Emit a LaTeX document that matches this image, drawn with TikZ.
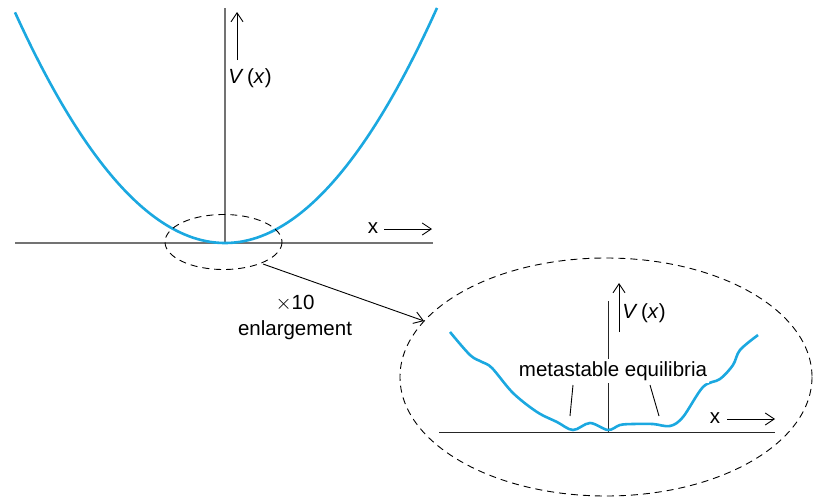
\documentclass[tikz,border=0pt]{standalone}
\usepackage{fontspec}
\setmainfont{Liberation Sans}
\usetikzlibrary{arrows.meta}
\definecolor{curveblue}{RGB}{27,168,224}
\tikzset{
  axisgray/.style={line width=1.4pt, draw=black!55},
  axisdark/.style={line width=1pt, draw=black!85},
  potential/.style={line width=2.6pt, draw=curveblue, line join=round},
  zoomring/.style={line width=0.9pt, dash pattern=on 7pt off 5pt},
  pointer/.style={line width=0.9pt, -{Straight Barb[length=9pt,width=12pt]}},
  lbl/.style={font=\fontsize{20.5}{24}\selectfont, inner sep=1pt}
}
\begin{document}
\begin{tikzpicture}[x=1pt,y=-1pt]
\useasboundingbox (0,0) rectangle (822,498);

% main potential well
\coordinate (topO) at (225,243);
\draw[axisgray] (15,243) -- (433,243);
\draw[axisgray] (225,8) -- (topO);
\draw[potential] plot[domain=15:437,samples=80,smooth] (\x,{243-52.3*((\x-225)/100)^2});

\node[lbl] (topV) at (250,78) {\textit{V}\,(\textit{x})};
\coordinate (topVa) at (237,60);
\coordinate (topVb) at (237,12);
\draw[pointer] (topVa) -- (topVb);

\node[lbl] (topX) at (373,228) {x};
\coordinate (topXa) at (384,229);
\coordinate (topXb) at (432,229);
\draw[pointer] (topXa) -- (topXb);

% small region and enlargement
\draw[zoomring] (223.5,242) ellipse (58.5 and 27.5);
\coordinate (smallEdge) at (263,264);
\coordinate (bigEdge) at (424,321);
\draw[pointer] (smallEdge) -- (bigEdge);

\node[lbl] (times) at (295,303) {$\times$10};
\node[lbl] (enl) at (295,330) {enlargement};

\draw[zoomring] (606,377) ellipse (206 and 119);

% enlarged detail
\draw[axisdark] (439,432) -- (775,432);
\draw[axisdark] (608,301) -- (608,432);

\draw[potential] plot[smooth,tension=0.55] coordinates {
  (450,332) (470,355) (482,362) (492,368) (513,393) (537,412) (557,422)
  (573,430) (590,423) (608,430) (620,425) (633,424) (653,424) (670,426)
  (683,417) (703,387) (720,379) (733,365) (740,350) (758,335)};

\node[lbl, fill=white, inner sep=2pt] (meta) at (613,371) {metastable equilibria};
\coordinate (mlA) at (573,385);
\coordinate (metaL) at (570,416);
\coordinate (mrA) at (650,385);
\coordinate (metaR) at (659,416);
\draw[line width=0.9pt] (mlA) -- (metaL);
\draw[line width=0.9pt] (mrA) -- (metaR);

\node[lbl] (botV) at (644,313) {\textit{V}\,(\textit{x})};
\coordinate (botVa) at (619,332);
\coordinate (botVb) at (619,283);
\draw[pointer] (botVa) -- (botVb);

\node[lbl] (botX) at (715,418) {x};
\coordinate (botXa) at (727,419);
\coordinate (botXb) at (775,419);
\draw[pointer] (botXa) -- (botXb);
\end{tikzpicture}
\end{document}
